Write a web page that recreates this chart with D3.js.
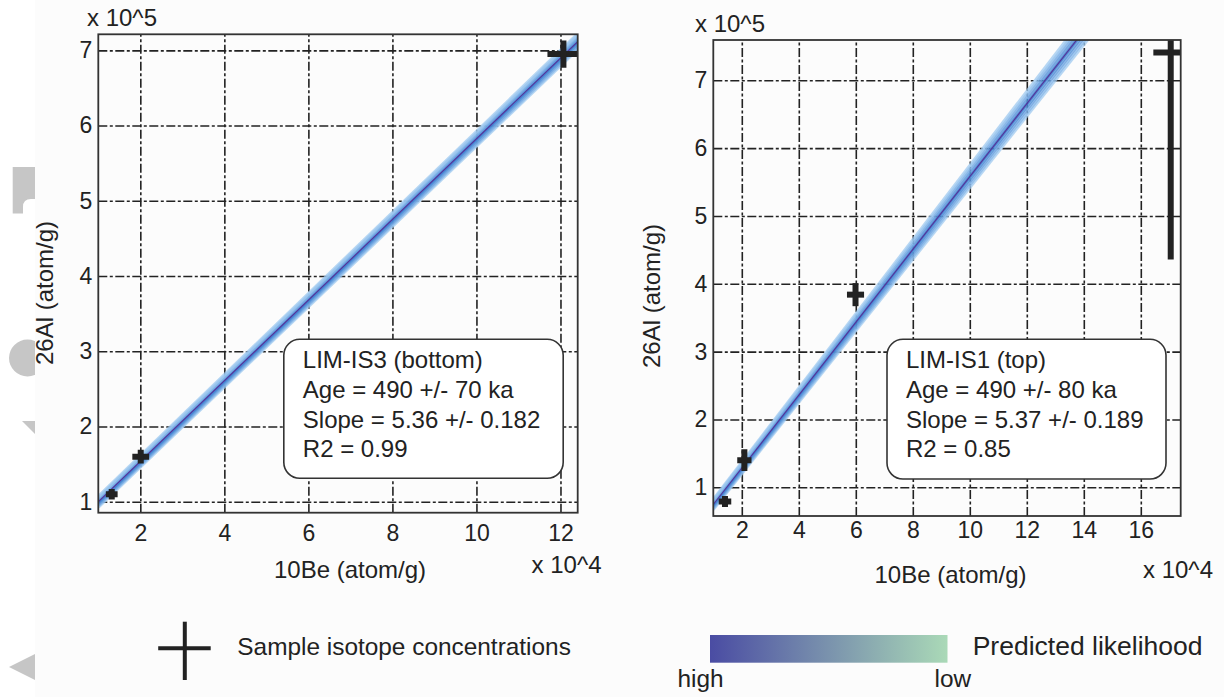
<!DOCTYPE html>
<html>
<head>
<meta charset="utf-8">
<script src="https://cdn.jsdelivr.net/npm/d3@7"></script>
<style>
  html, body { margin: 0; padding: 0; background: #fcfcfc; }
  svg { display: block; font-family: "Liberation Sans", Arial, Helvetica, sans-serif; }
</style>
</head>
<body>
<svg id="chart" width="1224" height="697"></svg>
<script>
// ---------- LIM-IS3 (bottom) ----------
// 10Be in units of 10^4 atom/g, 26Al in units of 10^5 atom/g
const is3Be      = [1.32, 2.01, 12.07];
const is3BeErr   = [0.14, 0.20, 0.38];
const is3Al      = [1.10, 1.60, 6.95];
const is3AlErr   = [0.07, 0.09, 0.18];
// likelihood-weighted isochron realisations (slope, intercept)
const is3FitSlope     = [0.5333, 0.5337, 0.5346, 0.5351, 0.5360, 0.5369, 0.5374, 0.5383, 0.5387];
const is3FitIntercept = [0.3967, 0.4163, 0.4304, 0.4499, 0.4640, 0.4781, 0.4976, 0.5117, 0.5313];
const is3BestSlope = 0.536;
const is3BestIntercept = 0.464;
const is3XTicks = [2, 4, 6, 8, 10, 12];
const is3YTicks = [1, 2, 3, 4, 5, 6, 7];
const is3Info = ["LIM-IS3 (bottom)", "Age = 490 +/- 70 ka", "Slope = 5.36 +/- 0.182", "R2 = 0.99"];

// ---------- LIM-IS1 (top) ----------
const is1Be      = [1.41, 2.09, 5.99, 17.05];
const is1BeErr   = [0.22, 0.25, 0.30, 0.61];
const is1Al      = [0.79, 1.40, 3.84, 7.41];
const is1AlErr   = [0.08, 0.16, 0.17, 3.05];
const is1FitSlope     = [0.5272, 0.5296, 0.5321, 0.5345, 0.5370, 0.5395, 0.5419, 0.5444, 0.5468];
const is1FitIntercept = [0.1448, 0.1611, 0.1774, 0.1937, 0.2100, 0.2263, 0.2426, 0.2589, 0.2752];
const is1BestSlope = 0.537;
const is1BestIntercept = 0.210;
const is1XTicks = [2, 4, 6, 8, 10, 12, 14, 16];
const is1YTicks = [1, 2, 3, 4, 5, 6, 7];
const is1Info = ["LIM-IS1 (top)", "Age = 490 +/- 80 ka", "Slope = 5.37 +/- 0.189", "R2 = 0.85"];

const svg = d3.select("#chart");
const W = 1224, H = 697;
const defs = svg.append("defs");
const INK = "#222";

// --- left page-edge strip with clipped shapes ---
svg.append("rect").attr("x", 0).attr("y", 0).attr("width", 35).attr("height", H).attr("fill", "#ffffff");
defs.append("clipPath").attr("id", "edge-clip").append("rect")
  .attr("x", 0).attr("y", 0).attr("width", 35).attr("height", H);
const edge = svg.append("g").attr("clip-path", "url(#edge-clip)").attr("fill", "#c6c6c6");
edge.append("path").attr("d", "M12.7,167H35V199H31Q23,199 23,207V213.4H12.7Z");
edge.append("circle").attr("cx", 27.5).attr("cy", 358).attr("r", 18.5);
edge.append("path").attr("d", "M22,421H35V434Z");
edge.append("path").attr("d", "M9,667L35,654V680Z");

function drawPanel(p) {
  const g = svg.append("g");
  const x = d3.scaleLinear().domain(p.xDomain).range([p.left, p.right]);
  const y = d3.scaleLinear().domain(p.yDomain).range([p.bottom, p.top]);
  const w = p.right - p.left, h = p.bottom - p.top;

  defs.append("clipPath").attr("id", p.id + "-clip").append("rect")
    .attr("x", p.left).attr("y", p.top).attr("width", w).attr("height", h);

  // grid + tick labels
  const xAxis = g.append("g").attr("transform", `translate(0,${p.bottom})`)
    .call(d3.axisBottom(x).tickValues(p.xTicks).tickSize(-h).tickPadding(p.xPad).tickFormat(d3.format("d")));
  const yAxis = g.append("g").attr("transform", `translate(${p.left},0)`)
    .call(d3.axisLeft(y).tickValues(p.yTicks).tickSize(-w).tickPadding(6).tickFormat(d3.format("d")));
  [xAxis, yAxis].forEach(a => {
    a.select(".domain").remove();
    a.selectAll(".tick line")
      .attr("stroke", INK).attr("stroke-width", 1.6)
      .attr("stroke-dasharray", "9,2.5,3,2.5");
    a.selectAll(".tick text")
      .attr("fill", INK).style("font-size", "23px")
      .style("font-family", '"Liberation Sans", Arial, sans-serif');
  });

  // info box
  const box = g.append("g");
  box.append("rect")
    .attr("x", p.box[0]).attr("y", p.box[1]).attr("width", p.box[2]).attr("height", p.box[3])
    .attr("rx", 16).attr("ry", 16)
    .attr("fill", "#ffffff").attr("stroke", "#333").attr("stroke-width", 1.6);
  box.selectAll("text").data(p.info).join("text")
    .attr("x", p.box[0] + 19)
    .attr("y", (d, i) => p.box[1] + 29 + i * 29.7)
    .attr("fill", INK).style("font-size", "24px")
    .text(d => d);

  // isochron realisations
  const fits = g.append("g").attr("clip-path", `url(#${p.id}-clip)`);
  const n = p.slopes.length, mid = (n - 1) / 2;
  const bandColor = d3.interpolateRgb("#3a7ccf", "#9fcaf0");
  const x0 = p.xDomain[0], x1 = p.xDomain[1];
  p.slopes.forEach((s, i) => {
    const b = p.intercepts[i];
    fits.append("line")
      .attr("x1", x(x0)).attr("y1", y(b + s * x0))
      .attr("x2", x(x1)).attr("y2", y(b + s * x1))
      .attr("stroke", bandColor(Math.abs(i - mid) / mid))
      .attr("stroke-opacity", 0.75)
      .attr("stroke-width", p.bandWidth);
  });
  fits.append("line")
    .attr("x1", x(x0)).attr("y1", y(p.bestB + p.bestS * x0))
    .attr("x2", x(x1)).attr("y2", y(p.bestB + p.bestS * x1))
    .attr("stroke", "#54349a").attr("stroke-width", 1.2);

  // samples with error bars
  const pts = g.append("g").attr("clip-path", `url(#${p.id}-clip)`)
    .attr("stroke", INK).attr("stroke-width", 6);
  p.be.forEach((bx, i) => {
    pts.append("line")
      .attr("x1", x(bx - p.beErr[i])).attr("x2", x(bx + p.beErr[i]))
      .attr("y1", y(p.al[i])).attr("y2", y(p.al[i]));
    pts.append("line")
      .attr("x1", x(bx)).attr("x2", x(bx))
      .attr("y1", y(p.al[i] - p.alErr[i])).attr("y2", y(p.al[i] + p.alErr[i]));
  });

  // frame
  g.append("rect").attr("x", p.left).attr("y", p.top).attr("width", w).attr("height", h)
    .attr("fill", "none").attr("stroke", "#333").attr("stroke-width", 1.8);

  // axis titles and multipliers
  const txt = (tx, ty, s, size, anchor) => g.append("text")
    .attr("x", tx).attr("y", ty).attr("fill", INK)
    .attr("text-anchor", anchor || "start").style("font-size", size + "px").text(s);
  txt(p.yMult[0], p.yMult[1], "x 10^5", 24);
  txt(p.xMult[0], p.xMult[1], "x 10^4", 24);
  txt(p.xTitle[0], p.xTitle[1], "10Be (atom/g)", 24, "middle");
  g.append("text")
    .attr("transform", `translate(${p.yTitle[0]},${p.yTitle[1]}) rotate(-90)`)
    .attr("text-anchor", "middle").attr("fill", INK).style("font-size", "24px")
    .text("26Al (atom/g)");
}

drawPanel({
  id: "is3",
  left: 98.3, right: 577.7, top: 34.3, bottom: 512.7,
  xDomain: [1.0, 12.41], yDomain: [0.855, 7.213],
  xTicks: is3XTicks, yTicks: is3YTicks, xPad: 12,
  be: is3Be, beErr: is3BeErr, al: is3Al, alErr: is3AlErr,
  slopes: is3FitSlope, intercepts: is3FitIntercept, bandWidth: 3.5,
  bestS: is3BestSlope, bestB: is3BestIntercept,
  info: is3Info, box: [283.8, 339.3, 279.4, 139],
  yMult: [87, 26], xMult: [531.6, 573], xTitle: [350, 578], yTitle: [53, 293]
});

drawPanel({
  id: "is1",
  left: 713.3, right: 1180.7, top: 40, bottom: 516,
  xDomain: [1.0, 17.40], yDomain: [0.577, 7.594],
  xTicks: is1XTicks, yTicks: is1YTicks, xPad: 6,
  be: is1Be, beErr: is1BeErr, al: is1Al, alErr: is1AlErr,
  slopes: is1FitSlope, intercepts: is1FitIntercept, bandWidth: 3,
  bestS: is1BestSlope, bestB: is1BestIntercept,
  info: is1Info, box: [887, 339.3, 279, 139.7],
  yMult: [695, 31.7], xMult: [1143, 578], xTitle: [950.5, 583], yTitle: [660, 296]
});

// ---------- legend ----------
const leg = svg.append("g");
leg.append("line").attr("x1", 184.8).attr("x2", 184.8).attr("y1", 621.7).attr("y2", 680)
  .attr("stroke", INK).attr("stroke-width", 4);
leg.append("line").attr("x1", 158.2).attr("x2", 210.7).attr("y1", 648.3).attr("y2", 648.3)
  .attr("stroke", INK).attr("stroke-width", 4);
leg.append("text").attr("x", 237.3).attr("y", 655).attr("fill", INK)
  .style("font-size", "24.4px").text("Sample isotope concentrations");

const grad = defs.append("linearGradient").attr("id", "likelihood")
  .attr("x1", "0%").attr("x2", "100%").attr("y1", "0%").attr("y2", "0%");
grad.append("stop").attr("offset", "0%").attr("stop-color", "#4a4ca3");
grad.append("stop").attr("offset", "100%").attr("stop-color", "#aad9b7");
leg.append("rect").attr("x", 710).attr("y", 635).attr("width", 237.5).attr("height", 27.7)
  .attr("fill", "url(#likelihood)");
leg.append("text").attr("x", 700.5).attr("y", 686.7).attr("text-anchor", "middle")
  .attr("fill", INK).style("font-size", "24.4px").text("high");
leg.append("text").attr("x", 952.8).attr("y", 686.7).attr("text-anchor", "middle")
  .attr("fill", INK).style("font-size", "24.4px").text("low");
leg.append("text").attr("x", 972.7).attr("y", 655).attr("fill", INK)
  .style("font-size", "26.5px").text("Predicted likelihood");
</script>
</body>
</html>
